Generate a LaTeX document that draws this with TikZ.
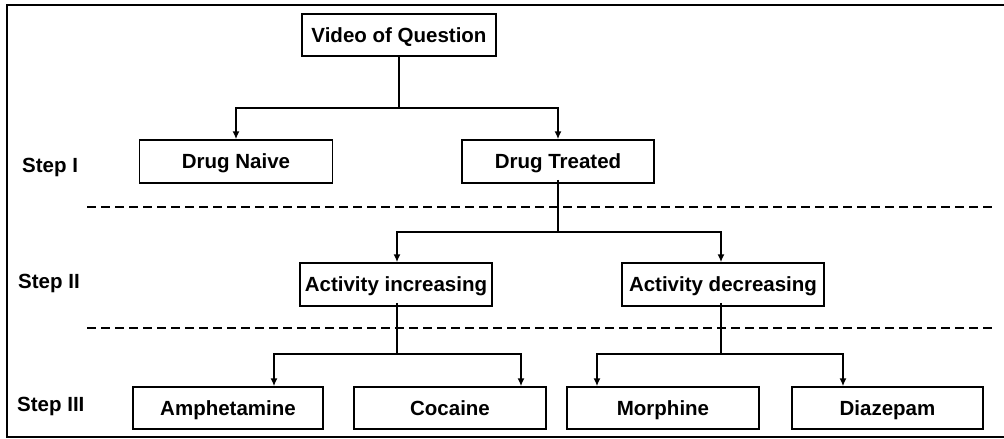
\documentclass[tikz,border=0pt]{standalone}
\usepackage{fontspec}
\setmainfont{Liberation Sans}
\usetikzlibrary{arrows.meta,calc}
\begin{document}
\begin{tikzpicture}[x=1pt,y=-1pt,
  box/.style={draw,line width=1.5pt,rectangle,inner sep=0pt,minimum height=42pt,text height=14.5pt,text depth=0pt,font=\fontsize{20.5}{24}\selectfont\bfseries},
  lbl/.style={anchor=base west,inner sep=0pt,font=\fontsize{20.5}{24}\selectfont\bfseries},
  conn/.style={line width=1.5pt},
  arr/.style={conn,-{Latex[length=8pt,width=7pt]}},
  sep/.style={line width=1.6pt,dash pattern=on 8.5pt off 5.5pt}]
\useasboundingbox (0,0) rectangle (1004,439);
\draw[line width=2pt] (1004,5) -- (7,5) -- (7,437) -- (1004,437);

% nodes
\node[box,minimum width=194pt] (vq) at (399,35) {Video of Question};
\node[box,minimum width=193pt,minimum height=43pt] (naive) at (236,161.5) {Drug Naive};
\node[box,minimum width=192pt,minimum height=43pt] (treat) at (558,161.5) {Drug Treated};
\node[box,minimum width=192pt,minimum height=43pt] (inc) at (396,284.5) {Activity increasing};
\node[box,minimum width=202pt,minimum height=43pt] (dec) at (723,284.5) {Activity decreasing};
\node[box,minimum width=190pt] (amph) at (228,408) {Amphetamine};
\node[box,minimum width=192pt] (coc) at (450,408) {Cocaine};
\node[box,minimum width=192pt] (morph) at (663,408) {Morphine};
\node[box,minimum width=191pt] (diaz) at (887.5,408) {Diazepam};

\node[lbl] (s1) at (22,172) {Step I};
\node[lbl] (s2) at (18,288) {Step II};
\node[lbl] (s3) at (17,411) {Step III};

% separators
\draw[sep] (87,207) -- (995,207);
\draw[sep] (87,328) -- (995,328);

% connectors
\coordinate (j1) at (399,108);
\draw[conn] (vq.south) -- (j1);
\draw[arr] (j1) -| (naive.north);
\draw[arr] (j1) -| (treat.north);

\coordinate (j2) at (558,232);
\draw[conn] ([yshift=4pt]treat.south) -- (j2);
\draw[arr] (j2) -| ([xshift=1pt]inc.north);
\draw[arr] (j2) -| ([xshift=-2pt]dec.north);

\coordinate (j3) at (397,354);
\draw[conn] ([xshift=1pt,yshift=4pt]inc.south) -- (j3);
\draw[arr] (j3) -| ([xshift=46pt]amph.north);
\draw[arr] (j3) -| ([xshift=71pt]coc.north);

\coordinate (j4) at (721,354);
\draw[conn] ([xshift=-2pt,yshift=4pt]dec.south) -- (j4);
\draw[arr] (j4) -| ([xshift=-66pt]morph.north);
\draw[arr] (j4) -| ([xshift=-44.5pt]diaz.north);
\end{tikzpicture}
\end{document}
